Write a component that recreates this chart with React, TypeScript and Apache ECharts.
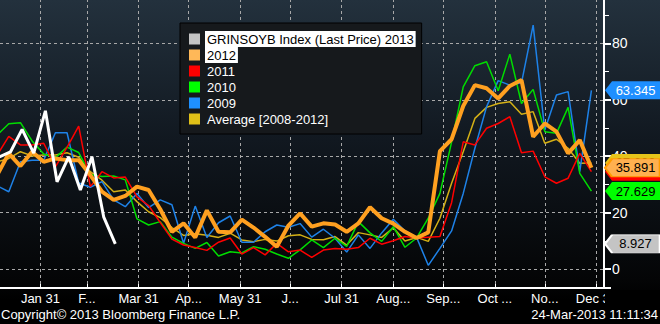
import React, { useEffect, useRef } from 'react';
import * as echarts from 'echarts';

const FONT = "'Liberation Sans', Arial, sans-serif";

// Weekly x positions (day of year) shared by the seasonal series
const weekDays = [5, 12, 19, 26, 33, 40, 47, 54, 61, 68, 75, 82, 89, 96, 103, 110, 117, 124, 131, 138, 145, 152, 159, 166, 173, 180, 187, 194, 201, 208, 215, 222, 229, 236, 243, 250, 257, 264, 271, 278, 285, 292, 299, 306, 313, 320, 327, 334, 341, 348, 355, 362];
const days2013 = [6, 13, 20, 27, 34, 41, 48, 55, 62, 69, 76];

const v2013 = [39.7, 41.5, 49.5, 41.1, 56.1, 30.9, 39.8, 28.0, 39.8, 18.5, 8.927];
const v2012 = [33.3, 41.0, 36.5, 41.6, 38.0, 39.2, 38.6, 38.6, 33.3, 27.4, 24.5, 25.9, 29.2, 28.0, 21.2, 13.2, 16.2, 11.2, 20.8, 13.2, 13.0, 17.5, 14.7, 11.4, 7.9, 15.4, 19.7, 15.0, 16.2, 15.8, 13.2, 16.2, 21.9, 18.0, 16.1, 13.2, 11.0, 13.0, 41.8, 46.0, 57.8, 65.2, 64.1, 60.5, 64.9, 67.0, 46.9, 51.6, 48.7, 41.0, 45.7, 35.891];
const v2011 = [40.4, 47.0, 44.0, 44.0, 44.6, 36.2, 43.1, 50.7, 29.2, 34.5, 32.3, 32.6, 25.6, 22.5, 16.5, 10.6, 8.5, 7.6, 6.6, 9.5, 11.0, 5.3, 7.6, 5.0, 9.1, 6.1, 6.7, 4.1, 6.7, 7.3, 7.0, 7.6, 10.9, 8.8, 10.0, 11.5, 11.0, 11.3, 11.5, 23.5, 45.1, 44.0, 49.9, 51.6, 54.0, 41.2, 41.8, 32.7, 30.4, 32.2, 41.0, 34.5];
const v2010 = [47.5, 51.5, 51.9, 45.4, 40.8, 39.5, 43.2, 41.3, 33.5, 32.8, 33.0, 31.6, 17.8, 15.6, 16.8, 11.3, 9.1, 7.3, 9.4, 4.6, 6.1, 5.7, 7.9, 7.0, 5.3, 3.8, 6.8, 10.3, 7.6, 10.9, 8.0, 16.8, 12.8, 9.8, 15.0, 7.7, 11.0, 18.0, 26.8, 45.0, 64.6, 72.1, 73.5, 63.2, 76.2, 58.7, 63.7, 48.7, 48.1, 57.3, 33.9, 27.629];
const v2009 = [29.5, 27.4, 38.0, 38.6, 38.6, 48.3, 48.3, 30.5, 29.0, 31.0, 24.5, 22.1, 26.8, 21.8, 24.5, 22.8, 9.1, 22.3, 11.2, 16.4, 18.8, 9.5, 9.5, 13.2, 15.6, 14.8, 16.1, 11.3, 14.1, 10.9, 6.0, 12.1, 7.3, 12.8, 17.6, 13.5, 11.2, 1.3, 7.3, 13.5, 26.8, 42.8, 57.5, 66.8, 65.2, 66.0, 86.5, 49.3, 61.7, 62.9, 34.5, 63.345];
const vAvg = [38.0, 39.2, 41.6, 40.1, 40.4, 40.4, 41.2, 39.6, 34.5, 31.5, 27.4, 28.0, 23.9, 20.3, 18.2, 14.7, 11.9, 12.5, 12.0, 11.2, 12.7, 10.3, 9.7, 10.5, 9.9, 11.8, 12.1, 10.5, 10.4, 11.5, 8.5, 12.9, 12.1, 11.2, 14.6, 9.9, 11.2, 9.8, 18.0, 30.4, 41.6, 53.4, 57.3, 58.7, 59.3, 54.9, 55.8, 44.6, 46.0, 42.8, 37.5, 37.6];

const monthEndDays = [31, 59, 90, 120, 151, 181, 212, 243, 273, 304, 334, 365];
const monthLabels = ['Jan 31', 'F...', 'Mar 31', 'Ap...', 'May 31', 'J...', 'Jul 31', 'Aug...', 'Sep...', 'Oct ...', 'No...', 'Dec 31'];
const yLabelValues = [0, 20, 40, 60, 80];

const names = {
  y2013: 'GRINSOYB Index (Last Price) 2013',
  y2012: '2012',
  y2011: '2011',
  y2010: '2010',
  y2009: '2009',
  avg: 'Average [2008-2012]',
};

const X_MIN = 6.73;
const X_MAX = 369.56;
const Y_MIN = -6.74;
const Y_MAX = 100;

type Tag = { fill: string; border: string; bw: number; text: string; z: number };

function makeSeries(name: string, xs: number[], ys: number[], color: string, width: number, tag: Tag) {
  const last = ys[ys.length - 1];
  return {
    name,
    type: 'line',
    data: xs.map((d, i) => [d, ys[i]]),
    symbol: 'none',
    showSymbol: false,
    silent: true,
    clip: true,
    lineStyle: { color, width },
    itemStyle: { color },
    emphasis: { disabled: true },
    markPoint: {
      silent: true,
      z: tag.z,
      symbol: 'path://M0,9L7,0L55,0L55,18L7,18Z',
      symbolSize: [55, 18],
      symbolOffset: [28.5, 0],
      itemStyle: { color: tag.fill, borderColor: tag.border, borderWidth: tag.bw },
      label: {
        show: true,
        position: 'inside',
        offset: [3, 0],
        color: tag.text,
        fontSize: 13,
        fontFamily: FONT,
        formatter: () => last.toFixed(3),
      },
      data: [{ coord: [X_MAX, last], value: last }],
    },
  };
}

export default function App() {
  const ref = useRef<HTMLDivElement>(null);
  useEffect(() => {
    if (!ref.current) return;
    const chart = echarts.init(ref.current, undefined, { renderer: 'svg' });
    const dash = { color: '#a8a8a8', type: [3, 3] as any, width: 1 };
    chart.setOption({
      animation: false,
      backgroundColor: 'transparent',
      textStyle: { fontFamily: FONT },
      grid: { left: 0, right: 56, top: -13, bottom: 36, containLabel: false, outerBoundsMode: 'none' },
      xAxis: {
        type: 'value',
        min: X_MIN,
        max: X_MAX,
        axisLine: { show: true, onZero: false, lineStyle: { color: '#ffffff', width: 2 } },
        axisTick: { show: true, inside: true, length: 4, customValues: monthEndDays, lineStyle: { color: '#ffffff', width: 1 } },
        axisLabel: {
          customValues: monthEndDays,
          color: '#ffffff',
          fontSize: 13,
          fontFamily: FONT,
          margin: 4,
          formatter: (v: number) => {
            const i = monthEndDays.indexOf(Math.round(v));
            return i >= 0 ? monthLabels[i] : '';
          },
        },
        splitLine: { show: true, lineStyle: dash },
      },
      yAxis: {
        type: 'value',
        position: 'right',
        min: Y_MIN,
        max: Y_MAX,
        minInterval: 20,
        maxInterval: 20,
        axisLine: { show: true, lineStyle: { color: '#ffffff', width: 2 } },
        axisTick: { show: true, length: 7, lineStyle: { color: '#ffffff', width: 2 } },
        minorTick: { show: true, splitNumber: 2, length: 5, lineStyle: { color: '#ffffff', width: 1 } },
        axisLabel: {
          color: '#ffffff',
          fontSize: 14,
          fontFamily: FONT,
          margin: 8,
          showMinLabel: false,
          formatter: (v: number) => (yLabelValues.indexOf(v) >= 0 ? String(v) : ''),
        },
        splitLine: { show: true, lineStyle: dash },
      },
      legend: {
        left: 180,
        top: 23,
        orient: 'vertical',
        icon: 'rect',
        itemWidth: 11,
        itemHeight: 11,
        itemGap: 0,
        selectedMode: false,
        padding: [8, 6, 7, 9],
        backgroundColor: '#16191c',
        borderColor: '#000000',
        borderWidth: 1,
        textStyle: { color: '#ffffff', fontSize: 13, lineHeight: 16, padding: [0, 2], fontFamily: FONT },
        data: [
          { name: names.y2013, itemStyle: { color: '#c4c4c4' }, textStyle: { backgroundColor: '#ffffff', color: '#000000' } },
          { name: names.y2012, itemStyle: { color: '#ffb858' }, textStyle: { backgroundColor: '#ffffff', color: '#000000' } },
          { name: names.y2011, itemStyle: { color: '#ff0000' } },
          { name: names.y2010, itemStyle: { color: '#00ff00' } },
          { name: names.y2009, itemStyle: { color: '#1e90ff' } },
          { name: names.avg, itemStyle: { color: '#e0c018' } },
        ],
      },
      series: [
        makeSeries(names.avg, weekDays, vAvg, '#d4b016', 1.5, { fill: '#e5c41a', border: '#e5c41a', bw: 0, text: '#000', z: 5 }),
        makeSeries(names.y2009, weekDays, v2009, '#1e82e8', 1.5, { fill: '#1e8fff', border: '#1e8fff', bw: 0, text: '#ffffff', z: 6 }),
        makeSeries(names.y2010, weekDays, v2010, '#00dd00', 1.5, { fill: '#00ff00', border: '#00ff00', bw: 0, text: '#000', z: 6 }),
        makeSeries(names.y2011, weekDays, v2011, '#ff0000', 1.5, { fill: '#ff0000', border: '#ff0000', bw: 0, text: '#000', z: 7 }),
        makeSeries(names.y2012, weekDays, v2012, '#ffa020', 4, { fill: '#ffb050', border: '#ff9a00', bw: 1.5, text: '#000', z: 9 }),
        makeSeries(names.y2013, days2013, v2013, '#ffffff', 3, { fill: '#c4c4c4', border: '#ffffff', bw: 1.5, text: '#000', z: 9 }),
      ],
      graphic: [
        { type: 'rect', z: 100, shape: { x: 605, y: 290, width: 55, height: 16 }, style: { fill: '#000000' } },
        { type: 'text', z: 100, left: 1, top: 308, style: { text: 'Copyright\u00a9 2013 Bloomberg Finance L.P.', fill: '#ffffff', font: `13px ${FONT}` } },
        { type: 'text', z: 100, right: 2, top: 308, style: { text: '24-Mar-2013 11:11:34', fill: '#ffffff', font: `13px ${FONT}` } },
      ],
    });
    return () => chart.dispose();
  }, []);
  return (
    <div
      ref={ref}
      style={{
        position: 'fixed',
        left: 0,
        top: 0,
        width: 660,
        height: 324,
        background: 'linear-gradient(to bottom, #23313d 0px, #111820 140px, #040506 280px, #000000 300px)',
      }}
    />
  );
}
